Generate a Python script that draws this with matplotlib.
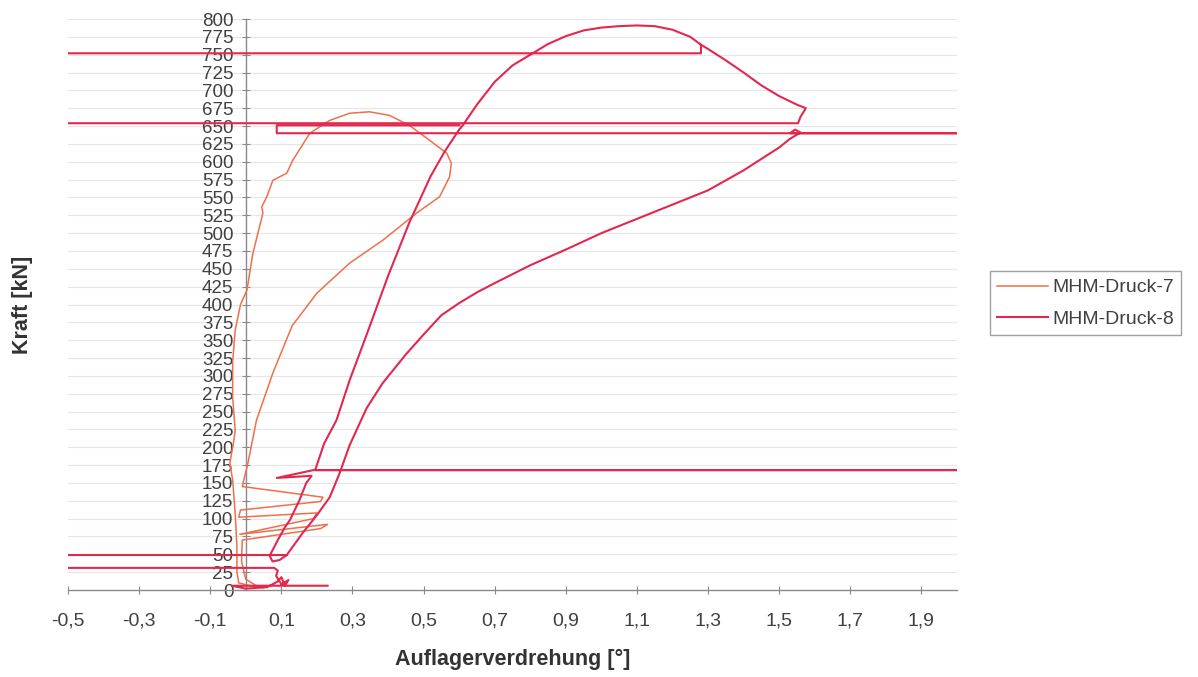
import matplotlib

matplotlib.use("Agg")
import numpy as np  # noqa: E402
import matplotlib.pyplot as plt  # noqa: E402

plt.rcParams["font.family"] = ["Liberation Sans", "DejaVu Sans"]

# Auflagerverdrehung [deg] / Kraft [kN]; x beyond the axis range = points off the chart
druck7_x = [0.05, 0.02, -0.02, -0.025, -0.025, -0.03, -0.037, -0.045, -0.035, -0.03,
            -0.037, -0.037, -0.03, -0.015, 0.003, 0.02, 0.048, 0.045, 0.059, 0.076,
            0.115, 0.132, 0.18, 0.236, 0.292, 0.348, 0.404, 0.46, 0.517, 0.565,
            0.578, 0.573, 0.545, 0.48, 0.385, 0.292, 0.2, 0.13, 0.076, 0.03,
            0.006, -0.01, 0.217, 0.21, -0.015, -0.02, 0.20, 0.19, -0.017, 0.23,
            0.21, -0.01, -0.012, 0.0, 0.03, 0.06]
druck7_y = [3, 5, 10, 25, 60, 108, 154, 178, 205, 224,
            270, 320, 364, 400, 420, 472, 528, 537, 551, 574,
            584, 602, 640, 658, 668, 670, 665, 651, 630, 612,
            598, 579, 551, 528, 490, 458, 416, 370, 304, 238,
            178, 145, 130, 124, 112, 102, 108, 100, 78, 92,
            86, 70, 40, 15, 6, 4]

druck8_x = [0.23, -0.04, 0.0, 0.06, 0.09, 0.10, 0.11, 0.12, 0.10, 0.085,
            0.09, 0.08, -0.6, -0.6, 0.115, 0.095, 0.075, 0.067, 0.09, 0.11,
            0.124, 0.15, 0.17, 0.185, 0.087, 0.19, 2.1, 0.195, 0.22, 0.255,
            0.292, 0.34, 0.40, 0.46, 0.52, 0.56, 0.60, 0.61, 0.65, 0.70,
            0.75, 0.80, 0.85, 0.90, 0.95, 1.00, 1.05, 1.10, 1.15, 1.20,
            1.25, 1.28, 1.28, -0.6, -0.6, 1.553, 1.56, 1.575, 1.55, 1.50,
            1.45, 1.40, 1.35, 1.30, 1.28, np.nan,
            0.115, 0.16, 0.2, 0.236, 0.264, 0.292, 0.34, 0.385, 0.45, 0.50,
            0.55, 0.60, 0.65, 0.70, 0.80, 0.90, 1.00, 1.10, 1.20, 1.30,
            1.40, 1.50, 1.53, 1.56, 1.545, 1.53, 2.1, 0.087, 0.087, 0.60]
druck8_y = [6, 6, 2, 4, 12, 18, 6, 14, 8, 20,
            27, 31, 31, 49, 49, 42, 40, 48, 70, 88,
            98, 125, 150, 160, 157, 168, 168, 168, 205, 238,
            294, 358, 440, 515, 580, 615, 645, 651, 680, 712,
            735, 750, 765, 776, 784, 788, 790, 791, 790, 785,
            775, 764, 752, 752, 654, 654, 663, 675, 680, 692,
            707, 725, 742, 758, 764, np.nan,
            49, 80, 105, 130, 164, 203, 255, 290, 330, 358,
            385, 402, 417, 430, 455, 477, 500, 520, 540, 560,
            588, 620, 632, 641, 645, 640, 640, 640, 651, 651]

series_names = ["MHM-Druck-7", "MHM-Druck-8"]
y_ticks = list(range(0, 801, 25))
x_ticks = [-0.5, -0.3, -0.1, 0.1, 0.3, 0.5, 0.7, 0.9, 1.1, 1.3, 1.5, 1.7, 1.9]
x_tick_labels = ["-0,5", "-0,3", "-0,1", "0,1", "0,3", "0,5", "0,7", "0,9",
                 "1,1", "1,3", "1,5", "1,7", "1,9"]

C7 = "#ef6f4c"
C8 = "#e3284f"
GREY = "#8a8a8a"
TXT = "#404040"


def main():
    fig = plt.figure(figsize=(11.98, 6.77), dpi=100)
    ax = fig.add_axes([0.0568, 0.1285, 0.742, 0.8434])
    ax.set_xlim(-0.5, 2.0)
    ax.set_ylim(0, 800)

    for y in y_ticks[1:]:
        ax.axhline(y, color="#e6e6e6", lw=0.8, zorder=0)

    l7, = ax.plot(druck7_x, druck7_y, color=C7, lw=1.1, zorder=3)
    l8, = ax.plot(druck8_x, druck8_y, color=C8, lw=1.5, zorder=4)

    for s in ("top", "right"):
        ax.spines[s].set_visible(False)
    ax.spines["left"].set_position(("data", 0))
    ax.spines["bottom"].set_position(("data", 0))
    for s in ("left", "bottom"):
        ax.spines[s].set_color(GREY)
        ax.spines[s].set_linewidth(1.0)

    ax.set_yticks(y_ticks)
    ax.set_xticks(x_ticks)
    ax.set_xticklabels(x_tick_labels)
    ax.tick_params(axis="y", direction="inout", length=6, width=0.8, color=GREY,
                   labelsize=13.5, labelcolor=TXT, pad=6)
    ax.tick_params(axis="x", direction="inout", length=6, width=0.8, color=GREY,
                   labelsize=14, labelcolor=TXT, pad=13)

    ax.set_xlabel("Auflagerverdrehung [°]", fontsize=15.5, fontweight="bold",
                  color="#333333")
    ax.xaxis.set_label_coords(0.5, -0.104)
    ax.set_ylabel("Kraft [kN]", fontsize=15.5, fontweight="bold", color="#333333")
    ax.yaxis.set_label_coords(-0.039, 0.5)

    leg = fig.legend([l7, l8], series_names, loc="center left",
                     bbox_to_anchor=(0.818, 0.552), fontsize=14, frameon=True,
                     fancybox=False, edgecolor=GREY, handlelength=2.6,
                     handletextpad=0.2, borderpad=0.4, labelspacing=0.7)
    leg.get_frame().set_linewidth(1.0)
    for t in leg.get_texts():
        t.set_color(TXT)

    fig.savefig("out.png", dpi=100)


if __name__ == "__main__":
    main()
